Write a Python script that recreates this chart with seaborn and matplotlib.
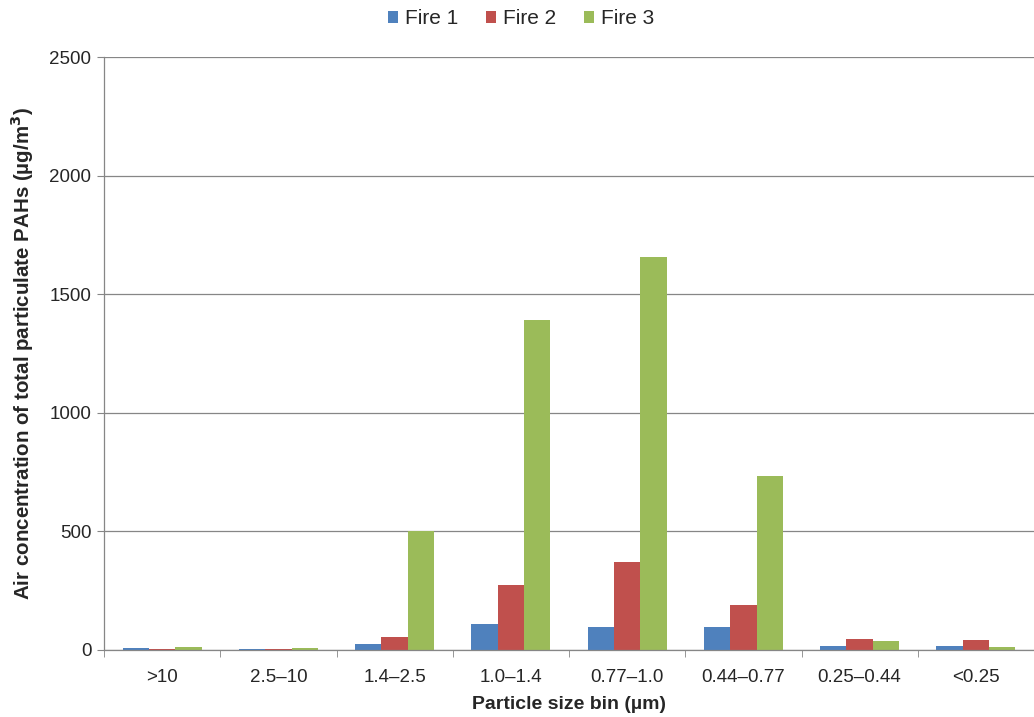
import pandas as pd
import matplotlib.pyplot as plt
import seaborn as sns
from matplotlib.ticker import FixedLocator

# Values
bins = ['>10', '2.5–10', '1.4–2.5', '1.0–1.4', '0.77–1.0', '0.44–0.77', '0.25–0.44', '<0.25']
fire1 = [7, 6, 25, 110, 97, 97, 17, 17]
fire2 = [6, 6, 53, 275, 371, 190, 48, 44]
fire3 = [11, 10, 500, 1390, 1657, 734, 39, 11]
series = ['Fire 1', 'Fire 2', 'Fire 3']
colors = ['#4F81BD', '#C0504D', '#9BBB59']

df = pd.DataFrame({'bin': bins, 'Fire 1': fire1, 'Fire 2': fire2, 'Fire 3': fire3})
df = df.melt(id_vars='bin', var_name='fire', value_name='conc')

sns.set_style('white')
plt.rcParams['font.family'] = ['Liberation Sans', 'DejaVu Sans']

fig = plt.figure(figsize=(10.34, 7.17), dpi=100)
ax = fig.add_axes([104 / 1034, (717 - 650) / 717, 930 / 1034, 593 / 717])

sns.barplot(data=df, x='bin', y='conc', hue='fire', hue_order=series,
            palette=colors, width=0.68, gap=0, saturation=1, linewidth=0, ax=ax)

ax.set_ylim(0, 2500)
ax.set_xlim(-0.5, len(bins) - 0.5)
ax.set_yticks(range(0, 2501, 500))
ax.yaxis.grid(True, color='#868686', linewidth=0.9)
ax.set_axisbelow(True)

for side in ['top', 'right']:
    ax.spines[side].set_visible(False)
for side in ['left', 'bottom']:
    ax.spines[side].set_color('#868686')
    ax.spines[side].set_linewidth(0.9)

# tick marks between categories on the x axis
ax.xaxis.set_major_locator(FixedLocator(range(len(bins))))
ax.set_xticklabels(bins)
ax.xaxis.set_minor_locator(FixedLocator([i - 0.5 for i in range(len(bins) + 1)]))
ax.tick_params(axis='x', which='major', length=0, pad=14, labelsize=13.5)
ax.tick_params(axis='x', which='minor', length=5, color='#868686', direction='out', bottom=True)
ax.tick_params(axis='y', length=5, color='#868686', direction='out', left=True, labelsize=13.5, pad=4)

ax.set_xlabel('Particle size bin (µm)', fontsize=14, fontweight='bold', labelpad=7)
ax.set_ylabel('Air concentration of total particulate PAHs (µg/m$^\\mathbf{3}$)',
              fontsize=14.8, fontweight='bold', labelpad=10)

handles, labels = ax.get_legend_handles_labels()
ax.get_legend().remove()
fig.legend(handles, labels, loc='center', bbox_to_anchor=(521 / 1034, 1 - 19 / 717), ncol=3,
           frameon=False, fontsize=15, handlelength=0.5, handleheight=0.5,
           handletextpad=0.35, columnspacing=1.3)

fig.savefig('out.png', dpi=100)
